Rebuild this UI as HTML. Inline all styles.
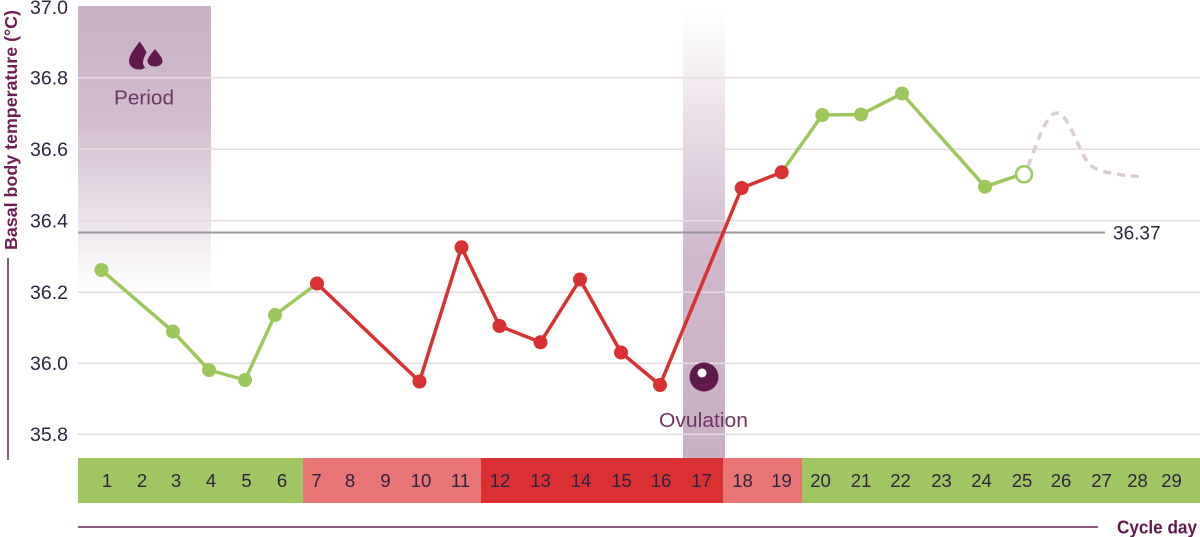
<!DOCTYPE html>
<html>
<head>
<meta charset="utf-8">
<style>
  html,body{margin:0;padding:0;background:#fff;}
  svg{display:block;}
  text{font-family:"Liberation Sans", sans-serif;}
</style>
</head>
<body>
<svg width="1200" height="537" viewBox="0 0 1200 537" xmlns="http://www.w3.org/2000/svg">
  <defs>
    <linearGradient id="perGrad" x1="0" y1="0" x2="0" y2="1">
      <stop offset="0" stop-color="#c9b0c5" stop-opacity="1"/>
      <stop offset="0.4" stop-color="#c9b0c5" stop-opacity="0.85"/>
      <stop offset="1" stop-color="#c9b0c5" stop-opacity="0"/>
    </linearGradient>
    <linearGradient id="ovGrad" x1="0" y1="0" x2="0" y2="1">
      <stop offset="0" stop-color="#c9b0c5" stop-opacity="0"/>
      <stop offset="0.55" stop-color="#c9b0c5" stop-opacity="0.9"/>
      <stop offset="1" stop-color="#c9b0c5" stop-opacity="1"/>
    </linearGradient>
  </defs>

  <!-- period band -->
  <rect x="78" y="6" width="133" height="286" fill="url(#perGrad)"/>
  <!-- ovulation band -->
  <rect x="683" y="10" width="42" height="448" fill="url(#ovGrad)"/>

  <!-- gridlines -->
  <g stroke="#e9dbe2" stroke-width="1.5">
    <line x1="78" y1="77.7" x2="1200" y2="77.7"/>
    <line x1="78" y1="149.3" x2="1200" y2="149.3"/>
    <line x1="78" y1="220.7" x2="1200" y2="220.7"/>
    <line x1="78" y1="292.3" x2="1200" y2="292.3"/>
    <line x1="78" y1="363.3" x2="1200" y2="363.3"/>
    <line x1="78" y1="434.3" x2="1200" y2="434.3"/>
  </g>

  <!-- y tick labels -->
  <g fill="#2e2440" font-size="19.5" text-anchor="end">
    <text x="68" y="14">37.0</text>
    <text x="68" y="84.5">36.8</text>
    <text x="68" y="156">36.6</text>
    <text x="68" y="227.5">36.4</text>
    <text x="68" y="299">36.2</text>
    <text x="68" y="370">36.0</text>
    <text x="68" y="441">35.8</text>
  </g>

  <!-- y axis title -->
  <text transform="translate(17,130) rotate(-90)" text-anchor="middle" font-size="17.5" font-weight="bold" fill="#6e1d55" textLength="240" lengthAdjust="spacingAndGlyphs">Basal body temperature (°C)</text>
  <line x1="8" y1="258" x2="8" y2="460" stroke="#8a5a80" stroke-width="2"/>

  <!-- 36.37 line -->
  <line x1="78" y1="232.5" x2="1105" y2="232.5" stroke="#9a9a9a" stroke-width="2"/>
  <text x="1113" y="239.5" font-size="19" fill="#2e2440">36.37</text>

  <!-- period icon and label -->
  <g fill="#5e1a4a">
    <path d="M139.5,41.5 C135,48 129,55 129,61 C129,66 133.5,69.5 139.5,69.5 C142,69.5 144,68.5 145,67.5 C143,65.5 142.5,62.5 143.5,59.5 C144.5,56 146.5,52.5 146.5,52.5 C144.5,48 142,44.5 139.5,41.5 Z"/>
    <path d="M155,49 C152,53 147.5,57.5 147.5,61 C147.5,64 150.5,66.5 155,66.5 C159.5,66.5 162.5,64 162.5,61 C162.5,57.5 158,53 155,49 Z"/>
  </g>
  <text x="144" y="104.5" text-anchor="middle" font-size="20" fill="#6e3562" textLength="60" lengthAdjust="spacingAndGlyphs">Period</text>

  <!-- ovulation icon and label -->
  <circle cx="704" cy="377" r="14.5" fill="#5e1a4a"/>
  <circle cx="702" cy="373" r="4.5" fill="#ffffff"/>
  <text x="703.5" y="427" text-anchor="middle" font-size="20" fill="#6e3562" textLength="89" lengthAdjust="spacingAndGlyphs">Ovulation</text>

  <!-- dashed forecast -->
  <path d="M1028,166 C1038,142 1046,113 1057,113 C1069,113 1078,152 1090,165 C1102,175 1128,175 1142,177" fill="none" stroke="#dccbd1" stroke-width="3.5" stroke-dasharray="8 6"/>

  <!-- series lines -->
  <polyline points="101.5,270 173,331.5 209,370 245,380 275,315 317,283.5" fill="none" stroke="#9dc75c" stroke-width="3.5" stroke-linejoin="round"/>
  <polyline points="317,283.5 419.5,381.5 461.5,247.3 499.5,326 540.5,342.3 580,279.5 621,352.5 660,385 741.7,188 781.7,172.3" fill="none" stroke="#d93131" stroke-width="3.5" stroke-linejoin="round"/>
  <polyline points="781.7,172.3 822.3,115 861,114.5 902,93.5 985,186.7 1016.5,176" fill="none" stroke="#9dc75c" stroke-width="3.5" stroke-linejoin="round"/>

  <!-- dots -->
  <g fill="#9dc75c">
    <circle cx="101.5" cy="270" r="7"/>
    <circle cx="173" cy="331.5" r="7"/>
    <circle cx="209" cy="370" r="7"/>
    <circle cx="245" cy="380" r="7"/>
    <circle cx="275" cy="315" r="7"/>
    <circle cx="822.3" cy="115" r="7"/>
    <circle cx="861" cy="114.5" r="7"/>
    <circle cx="902" cy="93.5" r="7"/>
    <circle cx="985" cy="186.7" r="7"/>
  </g>
  <g fill="#d93131">
    <circle cx="317" cy="283.5" r="7"/>
    <circle cx="419.5" cy="381.5" r="7"/>
    <circle cx="461.5" cy="247.3" r="7"/>
    <circle cx="499.5" cy="326" r="7"/>
    <circle cx="540.5" cy="342.3" r="7"/>
    <circle cx="580" cy="279.5" r="7"/>
    <circle cx="621" cy="352.5" r="7"/>
    <circle cx="660" cy="385" r="7"/>
    <circle cx="741.7" cy="188" r="7"/>
    <circle cx="781.7" cy="172.3" r="7"/>
  </g>
  <circle cx="1024" cy="174.3" r="8" fill="#ffffff" stroke="#9dc75c" stroke-width="2.5"/>

  <!-- day bar -->
  <rect x="78" y="458" width="225" height="45" fill="#9fc662"/>
  <rect x="303" y="458" width="178" height="45" fill="#e97575"/>
  <rect x="481" y="458" width="242" height="45" fill="#d93131"/>
  <rect x="723" y="458" width="79" height="45" fill="#e97575"/>
  <rect x="802" y="458" width="398" height="45" fill="#9fc662"/>

  <g fill="#2e2440" font-size="18.5" text-anchor="middle">
    <text x="107" y="487">1</text>
    <text x="142" y="487">2</text>
    <text x="176" y="487">3</text>
    <text x="211" y="487">4</text>
    <text x="246.5" y="487">5</text>
    <text x="282" y="487">6</text>
    <text x="316.5" y="487">7</text>
    <text x="350" y="487">8</text>
    <text x="385.5" y="487">9</text>
    <text x="421" y="487">10</text>
    <text x="460.5" y="487">11</text>
    <text x="500" y="487">12</text>
    <text x="540.5" y="487">13</text>
    <text x="581" y="487">14</text>
    <text x="621.5" y="487">15</text>
    <text x="661" y="487">16</text>
    <text x="701.5" y="487">17</text>
    <text x="742.5" y="487">18</text>
    <text x="781.5" y="487">19</text>
    <text x="820.5" y="487">20</text>
    <text x="861" y="487">21</text>
    <text x="900.5" y="487">22</text>
    <text x="941.5" y="487">23</text>
    <text x="981.5" y="487">24</text>
    <text x="1022" y="487">25</text>
    <text x="1061" y="487">26</text>
    <text x="1101.5" y="487">27</text>
    <text x="1137.5" y="487">28</text>
    <text x="1171.5" y="487">29</text>
  </g>

  <!-- x axis title -->
  <line x1="78" y1="527" x2="1098" y2="527" stroke="#8a5a80" stroke-width="2"/>
  <text x="1197" y="533.5" text-anchor="end" font-size="18" font-weight="bold" fill="#5e1a4a" textLength="80" lengthAdjust="spacingAndGlyphs">Cycle day</text>
</svg>
</body>
</html>
